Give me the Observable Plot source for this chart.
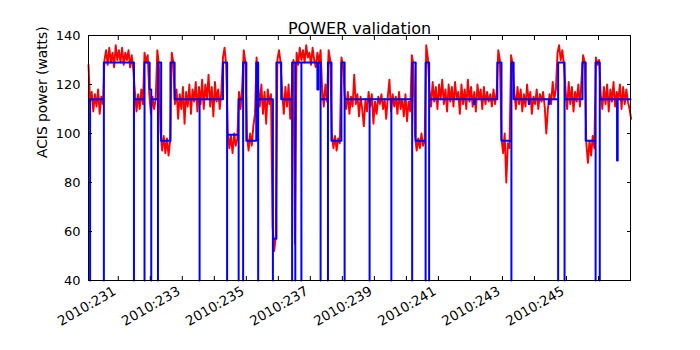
<!DOCTYPE html>
<html>
<head>
<meta charset="utf-8">
<script src="https://cdn.jsdelivr.net/npm/d3@7"></script>
<script src="https://cdn.jsdelivr.net/npm/@observablehq/plot@0.6"></script>
<style>
  html, body { margin: 0; padding: 0; background: white; }
  #chart { width: 700px; height: 350px; }
</style>
</head>
<body>
<div id="chart"></div>
<script>
// ---- Data ----
const chartTitle = "POWER validation";
const yLabel = "ACIS power (watts)";
const yTicks = [40, 60, 80, 100, 120, 140];
const dayTicks = [231, 232, 233, 234, 235, 236, 237, 238, 239, 240, 241, 242, 243, 244, 245, 246];
const dayLabels = [231, 233, 235, 237, 239, 241, 243, 245];
const xDomain = [230.07, 247.0];
const yDomain = [40, 140];

// Telemetry (red), sampled every 0.05 day from redStart
const redStart = 230.07;
const redStep = 0.05;
const redWatts = [
  128, 113, 117, 109, 116, 111, 118, 108, 115, 112,
  130, 134, 128, 135, 129, 133, 127, 136, 130, 134, 129, 135, 128, 133, 130, 134, 127, 132, 126,
  117, 109, 116, 110, 118, 112,
  133, 129, 132,
  116, 108, 115, 110, 114,
  134, 128,
  101, 93, 99, 92, 98, 91, 97,
  133, 129,
  112, 118, 106, 116, 110, 119, 104, 117, 111, 120,
  108, 118, 113, 121, 109, 119, 112, 122, 110, 120,
  114, 124, 111, 119, 107, 121, 113, 118, 110, 117,
  131, 135, 128,
  101, 94, 99, 92, 100, 95, 98,
  117, 110, 119,
  134, 129,
  99, 93, 100, 95, 103, 108,
  131,
  119, 111, 120, 108, 117, 104, 118, 112, 116,
  62, 52, 58,
  130, 134, 129,
  117, 108, 119, 111, 120, 106, 118,
  130, 55, 133, 128, 135, 130, 134, 129, 136, 131,
  133, 128, 135, 130, 127, 133, 129, 134,
  118, 111, 120, 113,
  134, 130,
  100, 94, 99, 93, 98, 96,
  131, 128,
  116, 110, 117, 108, 115, 111, 124, 112, 116, 107,
  115, 110, 103, 114, 109, 117, 111, 116, 104, 113,
  108, 115, 112, 116, 110, 114, 106, 115, 122, 109,
  116, 111, 115, 108, 117, 110, 114, 107, 116, 105,
  113, 109,
  132, 128,
  99, 93, 98, 94, 100, 95, 97,
  136, 131,
  118, 111, 121, 113, 119, 110, 120, 114, 122, 112,
  118, 109, 120, 113, 119, 111, 121, 114, 117, 108,
  120, 112, 118, 110, 122, 113, 119, 111, 117, 109,
  120, 114, 118, 110, 119, 112, 117, 113, 116, 111,
  118, 112, 117,
  134, 130,
  98, 92, 100, 80, 96, 94,
  132, 128,
  117, 110, 119, 112, 118, 109, 116, 111, 120, 113,
  117, 108, 115, 112, 118, 110, 116, 113, 117, 111,
  100, 110, 116, 112, 121, 114, 118,
  133, 136, 130, 134, 128,
  118, 110, 121, 112, 119, 109, 117, 113, 120, 111, 122,
  132, 129,
  96, 88, 97, 91, 99, 94,
  131, 128, 130,
  116, 110, 119, 112, 120, 109, 118, 113, 121, 111,
  117, 114, 120, 110, 119, 112, 118, 113, 110, 106
];

// Model (blue) step changes: day, watts (step-after)
const blueDay = [
  230.12, 230.12, 230.55, 230.55, 231.49, 231.49, 231.82, 231.82, 231.98,
  232.03, 232.03, 232.24, 232.24, 232.34, 232.63, 232.76,
  233.54, 233.54, 234.27, 234.40, 234.40, 234.76, 234.76, 234.90, 234.90,
  235.00, 235.31, 235.37, 235.37, 235.83, 235.83, 235.94, 236.09,
  236.43, 236.43, 236.53, 236.53, 236.72, 236.72, 237.22, 237.25,
  237.32, 237.32, 237.55, 237.55, 237.66, 237.97, 238.07, 238.07,
  238.85, 238.85, 239.53, 239.53, 240.18, 240.18, 240.29, 240.60, 240.60,
  240.71, 240.71, 242.11, 242.13, 242.84, 242.97, 243.28, 243.28, 243.35,
  243.82, 243.84, 244.45, 244.47, 244.74, 244.74, 244.94, 244.94,
  245.50, 245.60, 245.91, 245.91, 246.04, 246.04, 246.58, 246.60, 247.0
];
const blueWatts = [
  40, 114, 40, 129, 40, 114, 40, 129, 118,
  40, 114, 40, 129, 97, 129, 114,
  40, 114, 129, 40, 99.5, 40, 114, 40, 129,
  97, 129, 40, 114, 40, 57, 129, 114,
  40, 129, 40, 129, 40, 129, 118, 129,
  40, 114, 40, 129, 97, 129, 40, 114,
  40, 114, 40, 114, 40, 129, 97, 40, 129,
  40, 114, 112, 114, 129, 97, 40, 129, 114,
  112, 114, 112, 114, 40, 129, 40, 114,
  129, 97, 40, 129, 40, 114, 89, 114, 114
];

// ---- Tables built from the arrays ----
const red = redWatts.map((w, i) => ({day: redStart + i * redStep, watts: w}));
const blue = blueDay.map((d, i) => ({day: d, watts: blueWatts[i]}));

const chart = Plot.plot({
  width: 700,
  height: 350,
  marginLeft: 88,
  marginRight: 70,
  marginTop: 35,
  marginBottom: 70,
  style: {fontFamily: "'DejaVu Sans', sans-serif", fontSize: "13px", background: "white", color: "black"},
  x: {domain: xDomain, label: null},
  y: {domain: yDomain, label: null},
  marks: [
    Plot.line(red, {x: "day", y: "watts", stroke: "#ff0000", strokeWidth: 1.9}),
    Plot.line(blue, {x: "day", y: "watts", curve: "step-after", stroke: "#0000ff", strokeWidth: 2}),
    Plot.frame({stroke: "black", strokeWidth: 1}),
    Plot.axisY({anchor: "left", ticks: yTicks, tickSize: -4, tickPadding: 12, label: null, fontSize: 13}),
    Plot.axisY({anchor: "right", ticks: yTicks, tickSize: -4, tickFormat: () => "", label: null}),
    Plot.axisX({anchor: "bottom", ticks: dayTicks, tickSize: -4, tickFormat: () => "", label: null}),
    Plot.axisX({anchor: "top", ticks: dayTicks, tickSize: -4, tickFormat: () => "", label: null}),
    Plot.text(dayLabels, {x: d => d, text: d => "2010:" + d, frameAnchor: "bottom",
                          rotate: -30, textAnchor: "end", lineAnchor: "top",
                          dx: -6, dy: 5, fontSize: 13.5, fill: "black"}),
    Plot.text([chartTitle], {frameAnchor: "top", dy: -13, fontSize: 16}),
    Plot.text([yLabel], {frameAnchor: "left", dx: -46, rotate: -90, fontSize: 13.8})
  ]
});
document.getElementById("chart").appendChild(chart);
</script>
</body>
</html>
